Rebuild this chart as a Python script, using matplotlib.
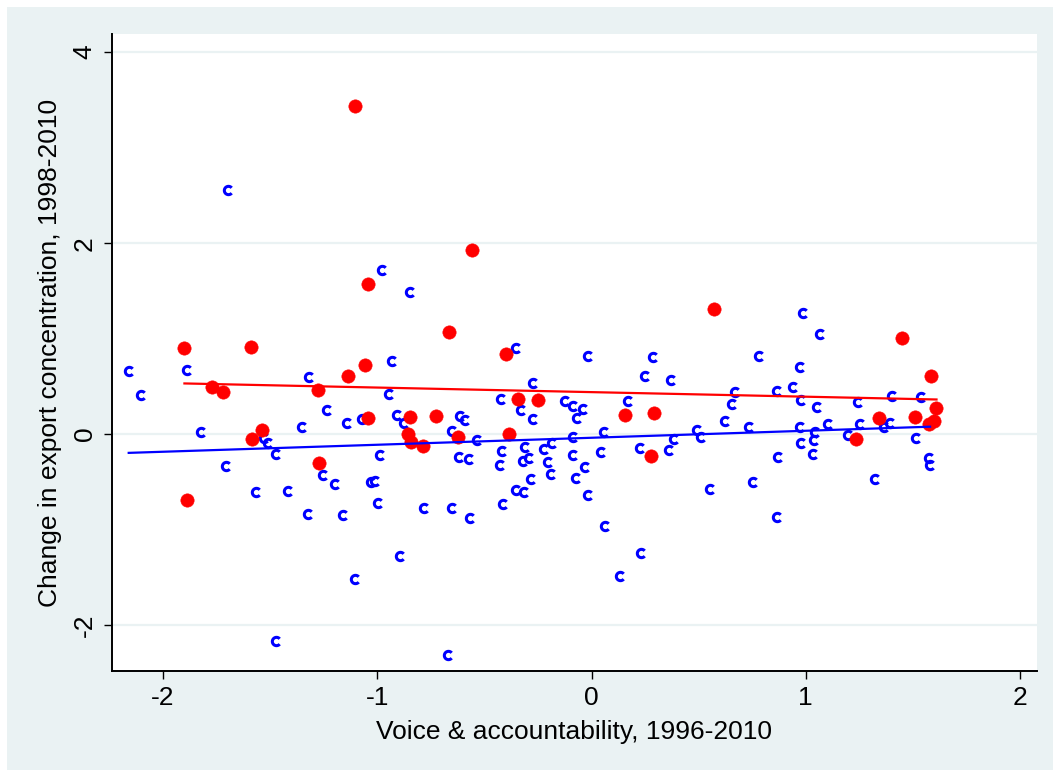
import numpy as np
import matplotlib
matplotlib.use("Agg")
import matplotlib.pyplot as plt
from matplotlib.path import Path
from matplotlib.patches import Rectangle

plt.rcParams['font.family'] = ['Liberation Sans', 'DejaVu Sans']

# red group (filled dots)
red_x = [-1.104, -0.560, -1.043, 0.570, -0.666, 1.448, -1.902, -1.588, -0.400, -1.056,
         -1.135, 1.585, -1.770, -1.721, -1.278, -0.343, -0.248, 1.609, -1.043, -0.845,
         -0.727, 0.154, 0.292, 1.343, 1.510, 1.599, 1.577, -1.537, -1.586, -0.855,
         -0.842, -0.786, -0.623, -0.386, 1.233, -1.273, 0.277, -1.889]
red_y = [3.440, 1.932, 1.571, 1.311, 1.066, 1.008, 0.904, 0.908, 0.840, 0.719,
         0.607, 0.607, 0.489, 0.443, 0.461, 0.363, 0.353, 0.275, 0.168, 0.175,
         0.186, 0.201, 0.220, 0.171, 0.178, 0.139, 0.102, 0.045, -0.052, 0.003,
         -0.082, -0.123, -0.028, 0.003, -0.049, -0.307, -0.232, -0.691]

# blue group (hollow "c" markers)
blue_x = [-1.698, -0.979, -0.846, 0.989, 1.067, -2.160, -1.887, -1.320, -0.929, -0.353,
          -0.015, 0.288, 0.780, 0.975, -2.104, -0.944, -1.235, -1.353, -1.141, -1.071,
          -0.909, -0.874, -1.821, -1.527, -1.509, -1.471, -0.986, -1.706, -1.252, -1.197,
          -1.031, -1.009, -1.567, -1.415, -0.997, -1.323, -1.161, -0.783, -0.894, -1.102,
          -1.473, -0.671,
          0.249, 0.373, -0.274, 0.169, -0.424, -0.124, -0.088, -0.040, -0.069, -0.328,
          -0.274, -0.614, -0.589, -0.649, -0.533, -0.086, 0.057, 0.386, -0.416, -0.312,
          -0.220, -0.184, 0.043, 0.228, 0.363, -0.618, -0.572, -0.085, -0.426, -0.321,
          -0.293, -0.202, -0.029, -0.188, -0.281, -0.072, -0.352, -0.315, -0.018, -0.650,
          -0.414, -0.565, 0.062, 0.230, 0.133,
          0.670, 0.654, 0.866, 0.939, 0.976, 1.054, 1.242, 1.401, 1.537, 0.625,
          0.734, 0.972, 1.102, 1.255, 1.364, 1.393, 1.043, 1.037, 0.979, 1.196,
          1.513, 0.494, 0.511, 0.872, 1.034, 1.575, 1.581, 1.322, 0.755, 0.553,
          0.866]
blue_y = [2.555, 1.717, 1.490, 1.267, 1.045, 0.660, 0.670, 0.597, 0.762, 0.897,
          0.814, 0.808, 0.815, 0.698, 0.405, 0.424, 0.254, 0.076, 0.115, 0.154,
          0.199, 0.112, 0.021, -0.045, -0.091, -0.209, -0.222, -0.332, -0.426, -0.520,
          -0.499, -0.492, -0.604, -0.600, -0.720, -0.838, -0.850, -0.770, -1.274, -1.515,
          -2.164, -2.311,
          0.613, 0.563, 0.537, 0.349, 0.363, 0.342, 0.296, 0.262, 0.171, 0.248,
          0.154, 0.188, 0.147, 0.037, -0.066, -0.035, 0.026, -0.055, -0.175, -0.139,
          -0.160, -0.097, -0.183, -0.148, -0.168, -0.244, -0.265, -0.220, -0.328, -0.283,
          -0.254, -0.296, -0.342, -0.419, -0.474, -0.461, -0.583, -0.607, -0.639, -0.772,
          -0.730, -0.874, -0.961, -1.243, -1.484,
          0.437, 0.311, 0.453, 0.495, 0.356, 0.280, 0.335, 0.401, 0.384, 0.139,
          0.076, 0.070, 0.108, 0.105, 0.076, 0.112, 0.021, -0.066, -0.094, -0.010,
          -0.042, 0.039, -0.031, -0.244, -0.209, -0.248, -0.325, -0.471, -0.499, -0.579,
          -0.866]

# fitted lines, end points
red_fit_x = [-1.90, 1.61]
red_fit_y = [0.531, 0.363]
blue_fit_x = [-2.16, 1.58]
blue_fit_y = [-0.196, 0.078]

xticks = [-2, -1, 0, 1, 2]
yticks = [-2, 0, 2, 4]

bg = '#EAF2F3'
fig = plt.figure(figsize=(10.54, 7.7), dpi=100, facecolor='white')
fig.patches.append(Rectangle((7 / 1054, 0), 1046 / 1054, 763 / 770,
                             transform=fig.transFigure, facecolor=bg,
                             edgecolor='none', zorder=-10))
ax = fig.add_axes([112 / 1054, 1 - 671 / 770, 925 / 1054, 637 / 770])
ax.set_facecolor('white')

c_marker = Path.arc(40, 320)

ax.plot(blue_x, blue_y, linestyle='', marker=c_marker, markersize=6,
        markerfacecolor='none', markeredgecolor='#0000FF', markeredgewidth=2.2,
        zorder=3)
ax.plot(red_x, red_y, linestyle='', marker='o', markersize=9.6,
        markerfacecolor='#FF0000', markeredgecolor='#FF0000', markeredgewidth=0.4,
        zorder=4)
ax.plot(blue_fit_x, blue_fit_y, color='#0000FF', linewidth=1.6, zorder=5)
ax.plot(red_fit_x, red_fit_y, color='#FF0000', linewidth=1.6, zorder=5)

ax.set_xlim(-2.238, 2.079)
ax.set_ylim(-2.48, 4.19)
ax.set_xticks(xticks)
ax.set_yticks(yticks)
ax.set_xticklabels([str(v) for v in xticks])
ax.set_yticklabels([str(v) for v in yticks])
for lbl in ax.get_yticklabels():
    lbl.set_rotation(90)
    lbl.set_va('center')

ax.grid(axis='y', color=bg, linewidth=1.6, zorder=1)
ax.set_axisbelow(True)
for s in ['top', 'right']:
    ax.spines[s].set_visible(False)
for s in ['left', 'bottom']:
    ax.spines[s].set_linewidth(1.4)
    ax.spines[s].set_color('black')
ax.tick_params(axis='both', direction='out', length=6, width=1.0,
               labelsize=19, colors='black', pad=5)

ax.set_xlabel('Voice & accountability, 1996-2010', fontsize=19, labelpad=7)
ax.set_ylabel('Change in export concentration, 1998-2010', fontsize=19, labelpad=8)

fig.savefig('out.png', dpi=100, facecolor=fig.get_facecolor())
